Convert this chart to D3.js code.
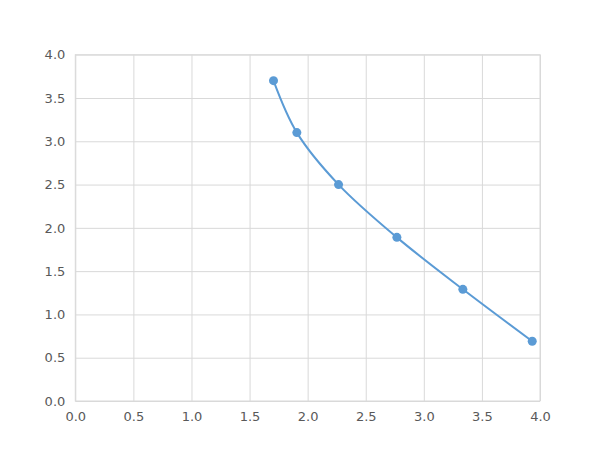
<!DOCTYPE html>
<html><head><meta charset="utf-8">
<script src="https://cdn.jsdelivr.net/npm/d3@7"></script>
<style>body{margin:0;background:#fff}svg{display:block}</style>
</head><body>
<svg id="c" width="600" height="450"></svg>
<script>
const xValues = [1.706, 1.907, 2.266, 2.768, 3.336, 3.933];
const yValues = [3.70, 3.10, 2.50, 1.89, 1.29, 0.69];
const xTicks = [0, 0.5, 1, 1.5, 2, 2.5, 3, 3.5, 4];
const yTicks = [0, 0.5, 1, 1.5, 2, 2.5, 3, 3.5, 4];

const svg = d3.select("#c");
const m = {l: 75.3, r: 540, t: 54.7, b: 401};
const x = d3.scaleLinear().domain([0, 4]).range([m.l, m.r]);
const y = d3.scaleLinear().domain([0, 4]).range([m.b, m.t]);
const grid = "#d9d9d9", txt = "#595959", col = "#5b9bd5";
const font = "DejaVu Sans, Verdana, sans-serif";

const xa = svg.append("g").attr("transform", `translate(0,${m.b})`)
  .call(d3.axisBottom(x).tickValues(xTicks).tickFormat(d3.format(".1f")).tickSize(-(m.b - m.t)).tickPadding(11));
const ya = svg.append("g").attr("transform", `translate(${m.l},0)`)
  .call(d3.axisLeft(y).tickValues(yTicks).tickFormat(d3.format(".1f")).tickSize(-(m.r - m.l)).tickPadding(10));
[xa, ya].forEach(a => {
  a.select(".domain").remove();
  a.selectAll(".tick line").attr("stroke", grid).attr("stroke-width", 1);
  a.selectAll(".tick text").attr("fill", txt).attr("font-family", font).attr("font-size", 13);
});
svg.append("rect").attr("x", m.l).attr("y", m.t).attr("width", m.r - m.l).attr("height", m.b - m.t)
  .attr("fill", "none").attr("stroke", grid);

const pts = xValues.map((v, i) => [v, yValues[i]]);
const line = d3.line().x(d => x(d[0])).y(d => y(d[1])).curve(d3.curveCatmullRom.alpha(0.5));
svg.append("path").attr("d", line(pts)).attr("fill", "none").attr("stroke", col).attr("stroke-width", 2);
svg.selectAll("circle.p").data(pts).join("circle").attr("class", "p")
  .attr("cx", d => x(d[0])).attr("cy", d => y(d[1])).attr("r", 4.5).attr("fill", col);
</script>
</body></html>
